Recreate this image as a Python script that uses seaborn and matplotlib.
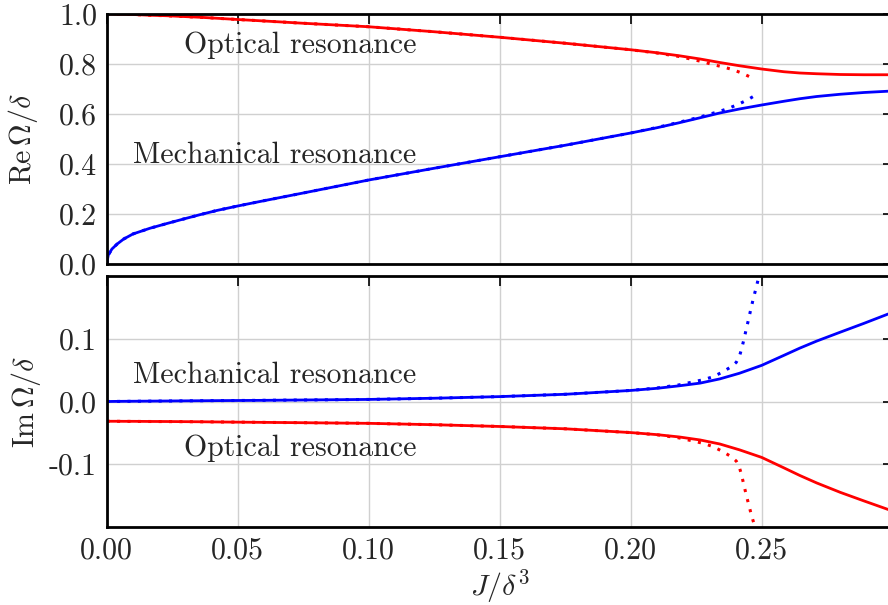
import matplotlib
matplotlib.use("Agg")
import matplotlib.pyplot as plt
import seaborn as sns

# ---- data -------------------------------------------------------------
# coupling J/delta^3 sample points for the exact (solid) eigenfrequencies
j_exact = [0.0, 0.0006, 0.002, 0.004, 0.0065, 0.010, 0.0165, 0.023, 0.029,
           0.0355, 0.042, 0.050, 0.0585, 0.075, 0.10, 0.125, 0.15, 0.175,
           0.20, 0.21, 0.2185, 0.2265, 0.234, 0.2415, 0.250, 0.2585, 0.2645,
           0.271, 0.280, 0.289, 0.298, 0.30]
re_optical = [1.000, 1.000, 1.000, 0.999, 0.999, 0.998, 0.995, 0.993, 0.990,
              0.987, 0.983, 0.978, 0.973, 0.963, 0.949, 0.929, 0.907, 0.883,
              0.857, 0.845, 0.833, 0.820, 0.806, 0.793, 0.780, 0.769, 0.764,
              0.761, 0.758, 0.757, 0.757, 0.757]
re_mechanical = [0.000, 0.036, 0.060, 0.080, 0.100, 0.120, 0.143, 0.162, 0.179,
                 0.197, 0.214, 0.232, 0.250, 0.284, 0.336, 0.383, 0.429, 0.475,
                 0.524, 0.545, 0.565, 0.585, 0.604, 0.620, 0.636, 0.651, 0.661,
                 0.670, 0.679, 0.686, 0.691, 0.692]
im_optical = [-0.0315, -0.0315, -0.0315, -0.0315, -0.0316, -0.0316, -0.0318,
              -0.0319, -0.0321, -0.0323, -0.0326, -0.0329, -0.0332, -0.0338,
              -0.0348, -0.0370, -0.0398, -0.0435, -0.0495, -0.0528, -0.0565,
              -0.0613, -0.0677, -0.0770, -0.0891, -0.1058, -0.1178, -0.1298,
              -0.1448, -0.1584, -0.1717, -0.1745]
im_mechanical = [0.0, 0.0, 0.0001, 0.0002, 0.0003, 0.0004, 0.0006, 0.0008,
                 0.0010, 0.0012, 0.0014, 0.0016, 0.0018, 0.0024, 0.0033,
                 0.0052, 0.0078, 0.0115, 0.0176, 0.0210, 0.0250, 0.0293,
                 0.0360, 0.0450, 0.0576, 0.0736, 0.0850, 0.0963, 0.1105,
                 0.1245, 0.1390, 0.1420]

# perturbative (dotted) approximation, real parts
j_re_opt_approx = [0.0, 0.002, 0.0065, 0.010, 0.0165, 0.023, 0.029, 0.0355,
                   0.042, 0.050, 0.0585, 0.075, 0.10, 0.125, 0.15, 0.175,
                   0.20, 0.21, 0.2185, 0.2271, 0.2312, 0.235, 0.2388, 0.2426,
                   0.2462]
re_opt_approx = [1.000, 1.000, 0.999, 0.998, 0.995, 0.993, 0.990, 0.987, 0.983,
                 0.978, 0.973, 0.963, 0.949, 0.929, 0.907, 0.883, 0.857, 0.844,
                 0.830, 0.810, 0.798, 0.789, 0.778, 0.763, 0.745]
j_re_mech_approx = [0.0, 0.0006, 0.002, 0.004, 0.0065, 0.010, 0.0165, 0.023,
                    0.029, 0.0355, 0.042, 0.050, 0.0585, 0.075, 0.10, 0.125,
                    0.15, 0.175, 0.20, 0.21, 0.2185, 0.2265, 0.2303, 0.2341,
                    0.2379, 0.2415, 0.245, 0.2485]
re_mech_approx = [0.000, 0.036, 0.060, 0.080, 0.100, 0.120, 0.143, 0.162, 0.179,
                  0.197, 0.214, 0.232, 0.250, 0.284, 0.336, 0.383, 0.429, 0.475,
                  0.524, 0.546, 0.567, 0.588, 0.600, 0.611, 0.625, 0.641, 0.659,
                  0.681]

# perturbative (dotted) approximation, imaginary parts
j_im_opt_approx = [0.0, 0.0355, 0.050, 0.075, 0.10, 0.125, 0.15, 0.175, 0.20,
                   0.21, 0.2185, 0.2277, 0.2315, 0.235, 0.2384, 0.2403, 0.2413,
                   0.2422, 0.2431, 0.2440, 0.2450, 0.2460, 0.2472, 0.2480]
im_opt_approx = [-0.0315, -0.0323, -0.0329, -0.0338, -0.0348, -0.0370, -0.0398,
                 -0.0435, -0.0495, -0.0530, -0.0580, -0.0667, -0.0720, -0.0795,
                 -0.0880, -0.0950, -0.1025, -0.1152, -0.1312, -0.1472, -0.1637,
                 -0.1797, -0.1970, -0.2100]
j_im_mech_approx = [0.0, 0.0355, 0.050, 0.075, 0.10, 0.125, 0.15, 0.175, 0.20,
                    0.21, 0.2185, 0.2277, 0.2315, 0.235, 0.2384, 0.2403,
                    0.2415, 0.2424, 0.2432, 0.2441, 0.2450, 0.2459, 0.2468,
                    0.2478, 0.2488, 0.2495]
im_mech_approx = [0.0, 0.0012, 0.0016, 0.0024, 0.0033, 0.0052, 0.0078, 0.0115,
                  0.0176, 0.0215, 0.0265, 0.0347, 0.0395, 0.0469, 0.0555,
                  0.0625, 0.0720, 0.0850, 0.0987, 0.1152, 0.1312, 0.1480,
                  0.1640, 0.1800, 0.1970, 0.2100]

x_ticks = [0.00, 0.05, 0.10, 0.15, 0.20, 0.25]
x_tick_labels = ["0.00", "0.05", "0.10", "0.15", "0.20", "0.25"]
re_ticks = [0.0, 0.2, 0.4, 0.6, 0.8, 1.0]
re_tick_labels = ["0.0", "0.2", "0.4", "0.6", "0.8", "1.0"]
im_ticks = [-0.1, 0.0, 0.1]
im_tick_labels = ["-0.1", "0.0", "0.1"]

RED = "#ff0000"
BLUE = "#0000ff"

# ---- style ------------------------------------------------------------
sns.set_style("whitegrid", {"grid.color": "#d0d0d0", "axes.edgecolor": "black"})
plt.rcParams["font.family"] = ["cmr10", "DejaVu Serif"]
plt.rcParams["mathtext.fontset"] = "cm"
plt.rcParams["axes.unicode_minus"] = False
plt.rcParams["axes.formatter.use_mathtext"] = True

FS = 21.5

fig = plt.figure(figsize=(8.88, 6.05), dpi=100)
W, H = 888.0, 605.0
x0 = 106.7 / W
aw = 786.0 / W
ax_re = fig.add_axes([x0, (H - 264) / H, aw, 250 / H])
ax_im = fig.add_axes([x0, (H - 527) / H, aw, 251 / H])

DOT = (0, (1, 2.4))


def curve(ax, x, y, color, dotted=False):
    sns.lineplot(x=x, y=y, ax=ax, color=color, estimator=None, sort=False,
                 linewidth=2.2 if dotted else 2.0,
                 linestyle=DOT if dotted else "-",
                 solid_joinstyle="round", solid_capstyle="round")


# top panel: real parts
curve(ax_re, j_re_opt_approx, re_opt_approx, RED, dotted=True)
curve(ax_re, j_re_mech_approx, re_mech_approx, BLUE, dotted=True)
curve(ax_re, j_exact, re_optical, RED)
curve(ax_re, j_exact, re_mechanical, BLUE)

# bottom panel: imaginary parts
curve(ax_im, j_im_opt_approx, im_opt_approx, RED, dotted=True)
curve(ax_im, j_im_mech_approx, im_mech_approx, BLUE, dotted=True)
curve(ax_im, j_exact, im_optical, RED)
curve(ax_im, j_exact, im_mechanical, BLUE)

for ax in (ax_re, ax_im):
    ax.set_xlim(0, 0.30)
    ax.set_xticks(x_ticks)
    ax.grid(True, color="#d0d0d0", linewidth=1.0)
    ax.tick_params(direction="in", top=True, right=True, length=7, width=1.2,
                   color="black", labelsize=FS, pad=7)
    for s in ax.spines.values():
        s.set_linewidth(2.0)
        s.set_color("black")

ax_re.set_ylim(0, 1.0)
ax_re.set_yticks(re_ticks)
ax_re.set_yticklabels(re_tick_labels)
ax_re.set_xticklabels([])
ax_re.set_xlabel("")

ax_im.set_ylim(-0.2, 0.2)
ax_im.set_yticks(im_ticks)
ax_im.set_yticklabels(im_tick_labels)
ax_im.set_xticklabels(x_tick_labels)

ax_re.set_ylabel(r"$\mathrm{Re}\,\mathit{\Omega}/\delta$", fontsize=FS)
ax_im.set_ylabel(r"$\mathrm{Im}\,\mathit{\Omega}/\delta$", fontsize=FS)
ax_re.yaxis.set_label_coords(-0.085, 0.5)
ax_im.yaxis.set_label_coords(-0.081, 0.5)
ax_im.set_xlabel(r"$J/\delta^3$", fontsize=FS)
ax_im.xaxis.set_label_coords(0.5, -0.162)
ax_im.xaxis.label.set_va("top")

ax_re.text(0.0294, 0.843, "Optical resonance", fontsize=FS, va="baseline")
ax_re.text(0.0102, 0.403, "Mechanical resonance", fontsize=FS, va="baseline")
ax_im.text(0.0102, 0.0293, "Mechanical resonance", fontsize=FS, va="baseline")
ax_im.text(0.0294, -0.0864, "Optical resonance", fontsize=FS, va="baseline")

fig.savefig("out.png", dpi=100)
